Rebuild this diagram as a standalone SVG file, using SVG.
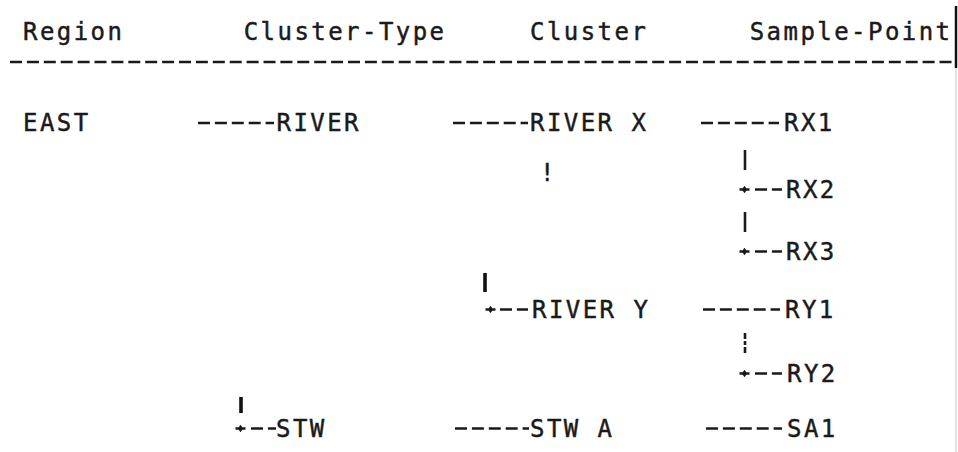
<svg xmlns="http://www.w3.org/2000/svg" width="958" height="452" viewBox="0 0 958 452">
<style>
  .t { font-family: "DejaVu Sans Mono", "Liberation Mono", monospace; font-size: 24px; fill: #1a1a1a; stroke: #1a1a1a; stroke-width: 0.45; letter-spacing: 2.45px; }
  .d { stroke: #1a1a1a; stroke-width: 2.6; stroke-dasharray: 12 4.9; fill: none; }
  .p { stroke: #1a1a1a; stroke-width: 2.6; fill: none; }
  .pb { stroke: #111; stroke-width: 3.6; fill: none; }
  .plus { fill: #1a1a1a; }
</style>
<defs>
  <path id="plus" d="M-5 -1.2h3.2l1.8 -2.6 1.8 2.6h3.2v2.4h-3.2l-1.8 2.6 -1.8 -2.6h-3.2z"/>
</defs>
<rect width="958" height="452" fill="#ffffff"/>
<g id="header">
  <text class="t" x="23" y="40">Region</text>
  <text class="t" x="243.7" y="40">Cluster-Type</text>
  <text class="t" x="530" y="40">Cluster</text>
  <text class="t" x="749.7" y="40">Sample-Point</text>
  <line x1="10" y1="62" x2="953" y2="62" stroke="#1a1a1a" stroke-width="2.4" stroke-dasharray="12 4.9"/>
  <line x1="956" y1="6" x2="956" y2="68" stroke="#111" stroke-width="2.5"/>
  <line x1="956" y1="68" x2="956" y2="452" stroke="#d8d8d8" stroke-width="1.5"/>
</g>
<g id="connectors">
  <!-- EAST row -->
  <line class="d" x1="198" y1="123" x2="274" y2="123"/>
  <line class="d" x1="453" y1="123" x2="528" y2="123"/>
  <line class="d" x1="701" y1="123" x2="779" y2="123"/>
  <!-- RX1 to RX2 -->
  <line class="p" x1="745" y1="150" x2="745" y2="170"/>
  <use href="#plus" class="plus" x="744.5" y="189.5"/>
  <line class="d" x1="755" y1="189.5" x2="782" y2="189.5"/>
  <!-- RX2 to RX3 -->
  <line class="p" x1="745" y1="212" x2="745" y2="232"/>
  <use href="#plus" class="plus" x="744.5" y="251.5"/>
  <line class="d" x1="755" y1="251.5" x2="782" y2="251.5"/>
  <!-- RIVER X to RIVER Y -->
  <text class="t" x="540" y="181">!</text>
  <line class="pb" x1="485" y1="273" x2="485" y2="292"/>
  <use href="#plus" class="plus" x="490.5" y="309.5"/>
  <line class="d" x1="500" y1="309.5" x2="528" y2="309.5"/>
  <line class="d" x1="703" y1="309.5" x2="780" y2="309.5"/>
  <!-- RY1 to RY2 -->
  <line class="p" x1="745" y1="333" x2="745" y2="353" stroke-dasharray="6 2 4 2 6"/>
  <use href="#plus" class="plus" x="744.5" y="373.5"/>
  <line class="d" x1="755" y1="373.5" x2="782" y2="373.5"/>
  <!-- RIVER to STW -->
  <line class="pb" x1="241" y1="397" x2="241" y2="413"/>
  <use href="#plus" class="plus" x="240.5" y="428.5"/>
  <line class="d" x1="251" y1="428.5" x2="276" y2="428.5"/>
  <line class="d" x1="455" y1="428.5" x2="529" y2="428.5"/>
  <line class="d" x1="706" y1="428.5" x2="782" y2="428.5"/>
</g>
<g id="node-east"><text class="t" x="23" y="131">EAST</text></g>
<g id="node-river"><text class="t" x="276.5" y="131">RIVER</text></g>
<g id="node-river-x"><text class="t" x="530" y="131">RIVER X</text></g>
<g id="node-rx1"><text class="t" x="784" y="131">RX1</text></g>
<g id="node-rx2"><text class="t" x="786" y="198">RX2</text></g>
<g id="node-rx3"><text class="t" x="786" y="260">RX3</text></g>
<g id="node-river-y"><text class="t" x="532" y="318">RIVER Y</text></g>
<g id="node-ry1"><text class="t" x="785" y="318">RY1</text></g>
<g id="node-ry2"><text class="t" x="787" y="382">RY2</text></g>
<g id="node-stw"><text class="t" x="276" y="437">STW</text></g>
<g id="node-stw-a"><text class="t" x="530" y="437">STW A</text></g>
<g id="node-sa1"><text class="t" x="787" y="437">SA1</text></g>
</svg>
